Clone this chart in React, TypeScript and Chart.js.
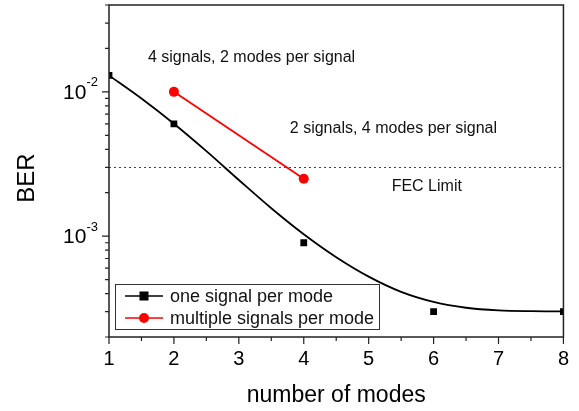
import React, { useEffect, useRef } from 'react';
import { Chart, registerables } from 'chart.js';

Chart.register(...registerables);

// Measured points: one signal per mode
const modesSingle = [1, 2, 4, 6, 8];
const berSingle = [0.013, 0.006, 0.0009, 0.0003, 0.0003];
// Measured points: multiple signals per mode
const modesMulti = [2, 4];
const berMulti = [0.01, 0.0025];
// Fitted curve
const fitModes = [1, 1.5, 2, 2.5, 3, 3.5, 4, 4.5, 5, 5.5, 6, 6.5, 7, 7.5, 8];
const fitBer = [0.013, 0.00899, 0.00601, 0.00388, 0.00245, 0.00156, 0.00103, 0.000714, 0.000524, 0.000411, 0.00035, 0.000319, 0.000306, 0.000302, 0.000301];
// FEC limit
const fecLimit = 0.003;
// Axis ticks
const xMajorTicks = [1, 2, 3, 4, 5, 6, 7, 8];
const xMinorTicks = [1.5, 2.5, 3.5, 4.5, 5.5, 6.5, 7.5];
const yMajorTicks = [0.001, 0.01];
const yMajorExponents = ['-3', '-2'];
const yMinorTicks = [0.0002, 0.0003, 0.0004, 0.0005, 0.0006, 0.0007, 0.0008, 0.0009, 0.002, 0.003, 0.004, 0.005, 0.006, 0.007, 0.008, 0.009, 0.02, 0.03, 0.04];
// Annotations (text, x, y in data units)
const annotationTexts = ['4 signals, 2 modes per signal', '2 signals, 4 modes per signal', 'FEC Limit'];
const annotationX = [1.6, 3.785, 5.354];
const annotationY = [0.0174, 0.00556, 0.00221];
const legendLabels = ['one signal per mode', 'multiple signals per mode'];

const FONT = '"Liberation Sans", Arial, Helvetica, sans-serif';

const decor = {
  id: 'decor',
  beforeDatasetsDraw(chart: any) {
    const { ctx, chartArea: a, scales } = chart;
    const y = scales.y;
    ctx.save();
    ctx.strokeStyle = '#444';
    ctx.lineWidth = 1;
    ctx.setLineDash([2, 3]);
    const fy = Math.round(y.getPixelForValue(fecLimit)) + 0.5;
    ctx.beginPath();
    ctx.moveTo(a.left, fy);
    ctx.lineTo(a.right, fy);
    ctx.stroke();
    ctx.restore();
  },
  afterDraw(chart: any) {
    const { ctx, chartArea: a, scales } = chart;
    const x = scales.x;
    const y = scales.y;
    ctx.save();
    // frame
    ctx.strokeStyle = '#222';
    ctx.lineWidth = 1.5;
    ctx.strokeRect(a.left, a.top, a.right - a.left, a.bottom - a.top);
    // ticks
    ctx.lineWidth = 1.2;
    ctx.beginPath();
    xMajorTicks.forEach((v) => {
      const px = x.getPixelForValue(v);
      ctx.moveTo(px, a.bottom);
      ctx.lineTo(px, a.bottom + 7);
    });
    xMinorTicks.forEach((v) => {
      const px = x.getPixelForValue(v);
      ctx.moveTo(px, a.bottom);
      ctx.lineTo(px, a.bottom + 4);
    });
    yMajorTicks.forEach((v) => {
      const py = y.getPixelForValue(v);
      ctx.moveTo(a.left, py);
      ctx.lineTo(a.left - 7, py);
    });
    yMinorTicks.forEach((v) => {
      const py = y.getPixelForValue(v);
      ctx.moveTo(a.left, py);
      ctx.lineTo(a.left - 4, py);
    });
    ctx.stroke();
    // y tick labels 10^n
    ctx.fillStyle = '#000';
    yMajorTicks.forEach((v, i) => {
      const py = y.getPixelForValue(v);
      ctx.font = `13px ${FONT}`;
      ctx.textAlign = 'right';
      ctx.textBaseline = 'middle';
      const ew = ctx.measureText(yMajorExponents[i]).width;
      ctx.fillText(yMajorExponents[i], a.left - 11, py - 9);
      ctx.font = `21px ${FONT}`;
      ctx.fillText('10', a.left - 11 - ew, py + 1);
    });
    // y title
    ctx.save();
    ctx.translate(27, 178);
    ctx.rotate(-Math.PI / 2);
    ctx.font = `24px ${FONT}`;
    ctx.textAlign = 'center';
    ctx.textBaseline = 'middle';
    ctx.fillText('BER', 0, 0);
    ctx.restore();
    // annotations
    ctx.font = `16px ${FONT}`;
    ctx.textAlign = 'left';
    ctx.textBaseline = 'middle';
    ctx.fillStyle = '#111';
    annotationTexts.forEach((t, i) => {
      ctx.fillText(t, x.getPixelForValue(annotationX[i]), y.getPixelForValue(annotationY[i]));
    });
    // legend
    const lx = a.left + 6;
    const ly = a.bottom - 53;
    ctx.fillStyle = '#fff';
    ctx.fillRect(lx, ly, 264, 45);
    ctx.strokeStyle = '#333';
    ctx.lineWidth = 1;
    ctx.strokeRect(lx + 0.5, ly + 0.5, 264, 45);
    const colors = ['#000', '#ff0000'];
    legendLabels.forEach((lab, i) => {
      const ry = ly + 12 + i * 22;
      ctx.strokeStyle = colors[i];
      ctx.lineWidth = 1.5;
      ctx.beginPath();
      ctx.moveTo(lx + 10, ry);
      ctx.lineTo(lx + 48, ry);
      ctx.stroke();
      ctx.fillStyle = colors[i];
      ctx.beginPath();
      if (i === 0) {
        ctx.rect(lx + 29 - 4.5, ry - 4.5, 9, 9);
      } else {
        ctx.arc(lx + 29, ry, 5, 0, Math.PI * 2);
      }
      ctx.fill();
      ctx.fillStyle = '#111';
      ctx.font = `18px ${FONT}`;
      ctx.textAlign = 'left';
      ctx.textBaseline = 'middle';
      ctx.fillText(lab, lx + 55, ry + 1);
    });
    ctx.restore();
  },
};

export default function App() {
  const ref = useRef<HTMLCanvasElement>(null);
  useEffect(() => {
    document.body.style.margin = '0';
    const canvas = ref.current!;
    const chart = new Chart(canvas, {
      type: 'scatter',
      data: {
        datasets: [
          {
            label: 'fit',
            data: fitModes.map((m, i) => ({ x: m, y: fitBer[i] })),
            showLine: true,
            borderColor: '#000',
            borderWidth: 1.8,
            pointRadius: 0,
            cubicInterpolationMode: 'monotone',
          },
          {
            label: legendLabels[0],
            data: modesSingle.map((m, i) => ({ x: m, y: berSingle[i] })),
            showLine: false,
            pointStyle: 'rect',
            pointRadius: 4.8,
            backgroundColor: '#000',
            borderColor: '#000',
            borderWidth: 0,
          },
          {
            label: legendLabels[1],
            data: modesMulti.map((m, i) => ({ x: m, y: berMulti[i] })),
            showLine: true,
            borderColor: '#ff0000',
            backgroundColor: '#ff0000',
            borderWidth: 1.8,
            pointStyle: 'circle',
            pointRadius: 5,
            pointBorderWidth: 0,
          },
        ],
      },
      options: {
        responsive: false,
        animation: false,
        layout: { padding: { top: 2, right: 15, left: 0, bottom: 0 } },
        plugins: { legend: { display: false }, tooltip: { enabled: false } },
        scales: {
          x: {
            type: 'linear',
            min: 1,
            max: 8,
            grid: { display: false, drawTicks: false },
            border: { display: false },
            afterBuildTicks: (s: any) => {
              s.ticks = xMajorTicks.map((v) => ({ value: v }));
            },
            ticks: {
              color: '#000',
              font: { size: 20, family: FONT },
              padding: 10,
              maxRotation: 0,
            },
            title: {
              display: true,
              text: 'number of modes',
              color: '#000',
              font: { size: 23, family: FONT },
              padding: { top: 0, bottom: 2 },
            },
            afterFit: (s: any) => {
              s.height = 74;
            },
          },
          y: {
            type: 'logarithmic',
            min: 0.0002,
            max: 0.04,
            grid: { display: false, drawTicks: false },
            border: { display: false },
            ticks: { display: false },
            afterFit: (s: any) => {
              s.width = 109;
            },
          },
        },
      },
      plugins: [decor],
    } as any);
    return () => chart.destroy();
  }, []);
  return <canvas ref={ref} width={579} height={411} style={{ display: 'block' }} />;
}
